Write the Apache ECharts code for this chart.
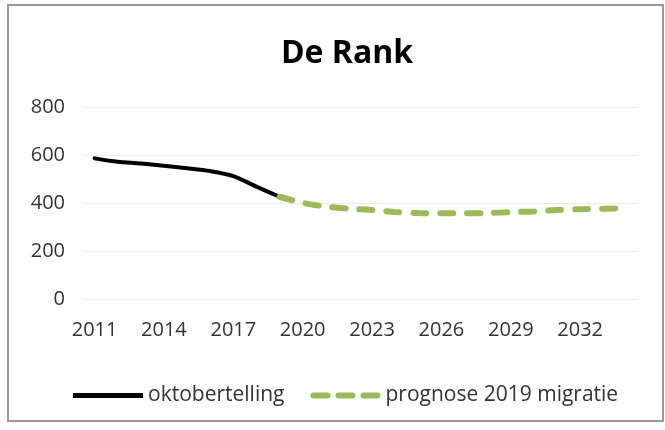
<!DOCTYPE html>
<html><head><meta charset="utf-8">
<script src="https://cdn.jsdelivr.net/npm/echarts@6/dist/echarts.min.js"></script>
<style>html,body{margin:0;padding:0;background:#fff}#c{width:665px;height:430px}</style>
</head><body><div id="c"></div>
<script>
const years = ['2011','2012','2013','2014','2015','2016','2017','2018','2019','2020','2021','2022','2023','2024','2025','2026','2027','2028','2029','2030','2031','2032','2033','2034'];
const oktobertelling = [586, 572, 565, 555, 545, 533, 512, 468, 426, null, null, null, null, null, null, null, null, null, null, null, null, null, null, null];
const prognose = [null, null, null, null, null, null, null, null, 426, 401, 385, 376, 371, 362, 358, 357, 357, 358, 362, 365, 371, 374, 376, 378];
const yTicks = [0, 200, 400, 600, 800];

const chart = echarts.init(document.getElementById('c'));
chart.setOption({
  animation: false,
  backgroundColor: '#fff',
  title: {
    text: 'De Rank', left: 342, top: 33, textAlign: 'center',
    textStyle: {fontFamily: 'Open Sans', fontWeight: 'bold', fontSize: 32, color: '#000'}
  },
  graphic: [{
    type: 'rect', shape: {x: 8, y: 5, width: 655, height: 416},
    style: {fill: 'none', stroke: '#9a9a9a', lineWidth: 2}, silent: true
  }],
  grid: {left: 83, right: 27, top: 107, bottom: 131},
  xAxis: {
    type: 'category', data: years, boundaryGap: true,
    axisLine: {show: false}, axisTick: {show: false},
    axisLabel: {interval: 2, color: '#333', fontFamily: 'Open Sans', fontSize: 20, margin: 21}
  },
  yAxis: {
    type: 'value', min: yTicks[0], max: yTicks[yTicks.length - 1], interval: 200,
    axisLine: {show: false}, axisTick: {show: false},
    axisLabel: {color: '#333', fontFamily: 'Open Sans', fontSize: 20, margin: 18},
    splitLine: {lineStyle: {color: '#ebebeb', width: 1}}
  },
  legend: {
    bottom: 19, left: 68, itemWidth: 70, itemHeight: 8, itemGap: 26,
    textStyle: {fontFamily: 'Open Sans', fontSize: 21, color: '#333'},
    data: [
      {name: 'oktobertelling', icon: 'path://M0,0h70v5h-70z'},
      {name: 'prognose 2019 migratie', icon: 'path://M3,0h14a3,3 0 0 1 0,6h-14a3,3 0 0 1 0,-6z M28,0h14a3,3 0 0 1 0,6h-14a3,3 0 0 1 0,-6z M53,0h14a3,3 0 0 1 0,6h-14a3,3 0 0 1 0,-6z'}
    ]
  },
  series: [
    {name: 'oktobertelling', type: 'line', data: oktobertelling, smooth: 0.3, symbol: 'none',
     lineStyle: {color: '#000', width: 4, cap: 'round'}, itemStyle: {color: '#000'}},
    {name: 'prognose 2019 migratie', type: 'line', data: prognose, smooth: 0.3, symbol: 'none',
     lineStyle: {color: '#9bbb59', width: 6, type: [13, 14], cap: 'round'}, itemStyle: {color: '#9bbb59'}}
  ]
});
</script></body></html>
